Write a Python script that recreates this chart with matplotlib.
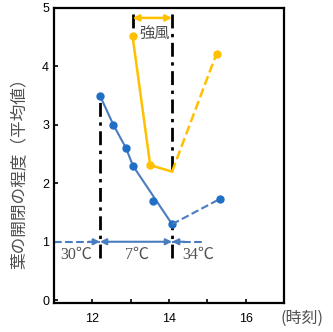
import matplotlib.pyplot as plt

plt.rcParams['font.family'] = ['Liberation Sans', 'Noto Sans CJK JP']

# 時刻と葉の開閉の程度
blue_t = [12.2, 12.55, 12.88, 13.06, 14.08]
blue_v = [3.5, 3.0, 2.6, 2.3, 1.3]
blue_extra_t = [13.57]
blue_extra_v = [1.7]
blue_after_t = [14.08, 15.32]
blue_after_v = [1.3, 1.73]

yellow_t = [13.05, 13.51, 14.08]
yellow_v = [4.52, 2.31, 2.2]
yellow_after_t = [14.08, 15.24]
yellow_after_v = [2.2, 4.22]

temp_labels = ['30℃', '7℃', '34℃']
temp_x = [11.59, 13.17, 14.76]

BLUE = '#4a7cc0'
BLUE_DOT = '#1f6fc5'
YELLOW = '#ffc000'
GRAY = '#505050'

fig = plt.figure(figsize=(3.33, 3.32), dpi=100)
ax = fig.add_axes([0.162, 0.087, 0.691, 0.889])

# 青（気温の変化）
ax.plot(blue_t, blue_v, color=BLUE, lw=1.5, marker='o', ms=5,
        mfc=BLUE_DOT, mec=BLUE_DOT, zorder=3)
ax.plot(blue_extra_t, blue_extra_v, 'o', ms=5, color=BLUE_DOT, zorder=3)
ax.plot(blue_after_t, blue_after_v, color=BLUE, lw=1.5, ls='--',
        marker='o', ms=5, mfc=BLUE_DOT, mec=BLUE_DOT, markevery=[1], zorder=3)

# 黄（強風）
ax.plot(yellow_t, yellow_v, color=YELLOW, lw=1.8, marker='o', ms=5,
        markevery=[0, 1], zorder=3)
ax.plot(yellow_after_t, yellow_after_v, color=YELLOW, lw=1.8, ls='--',
        marker='o', ms=5, markevery=[1], zorder=3)

# 区切りの一点鎖線
dash = dict(color='black', lw=2, dashes=(5, 2, 1.2, 2), zorder=2)
ax.plot([blue_t[0], blue_t[0]], [0.72, blue_v[0]], **dash)
ax.plot([blue_t[-1], blue_t[-1]], [0.72, blue_v[-1]], **dash)
ax.plot([yellow_t[0], yellow_t[0]], [4.9, yellow_v[0]], **dash)
ax.plot([yellow_t[-1], yellow_t[-1]], [4.9, yellow_v[-1]], **dash)

# 強風の矢印
ax.annotate('', xy=(yellow_t[0], 4.83), xytext=(yellow_t[-1], 4.83),
            arrowprops=dict(arrowstyle='<|-|>', color=YELLOW, lw=1.8,
                            mutation_scale=9, shrinkA=0, shrinkB=0))
ax.text((yellow_t[0] + yellow_t[-1]) / 2 + 0.05, 4.57, '強風', color=GRAY,
        fontsize=11, ha='center', va='center', family='Noto Sans CJK JP')

# 気温の矢印
ax.plot([11.0, blue_t[0]], [1, 1], color=BLUE, lw=1.5, ls='--')
ax.plot([blue_t[-1], 14.85], [1, 1], color=BLUE, lw=1.5, ls='--')
ax.annotate('', xy=(blue_t[0], 1), xytext=(blue_t[-1], 1),
            arrowprops=dict(arrowstyle='<|-|>', color=BLUE, lw=1.5,
                            mutation_scale=9, shrinkA=0, shrinkB=0))
ax.annotate('', xy=(blue_t[0], 1), xytext=(11.9, 1),
            arrowprops=dict(arrowstyle='-|>', color=BLUE, lw=1.5,
                            mutation_scale=9, shrinkA=0, shrinkB=0))
ax.annotate('', xy=(blue_t[-1], 1), xytext=(14.4, 1),
            arrowprops=dict(arrowstyle='-|>', color=BLUE, lw=1.5,
                            mutation_scale=9, shrinkA=0, shrinkB=0))
for x, lab in zip(temp_x, temp_labels):
    ax.text(x, 0.78, lab, color=GRAY, fontsize=11.5, ha='center', va='center',
            family=['Liberation Serif', 'Noto Sans CJK JP'])

ax.set_xlim(11, 17)
ax.set_ylim(-0.05, 5)
ax.set_xticks([12, 13, 14, 15, 16])
ax.set_xticklabels(['12', '', '14', '', '16'])
ax.set_yticks([0, 1, 2, 3, 4, 5])
ax.tick_params(direction='in', length=3, width=1.2, labelsize=9)
ax.tick_params(axis='x', pad=7)
for s in ax.spines.values():
    s.set_linewidth(1.6)

fig.text(20 / 333, 1 - 169 / 332, '葉の開閉の程度（平均値）', rotation=90,
         ha='center', va='center', fontsize=12, color=GRAY,
         family='Noto Sans CJK JP')
fig.text(302 / 333, 1 - 318 / 332, '(時刻)', ha='center', va='center',
         fontsize=11.5, color=GRAY, family='Noto Sans CJK JP')

fig.savefig('out.png', dpi=100)
